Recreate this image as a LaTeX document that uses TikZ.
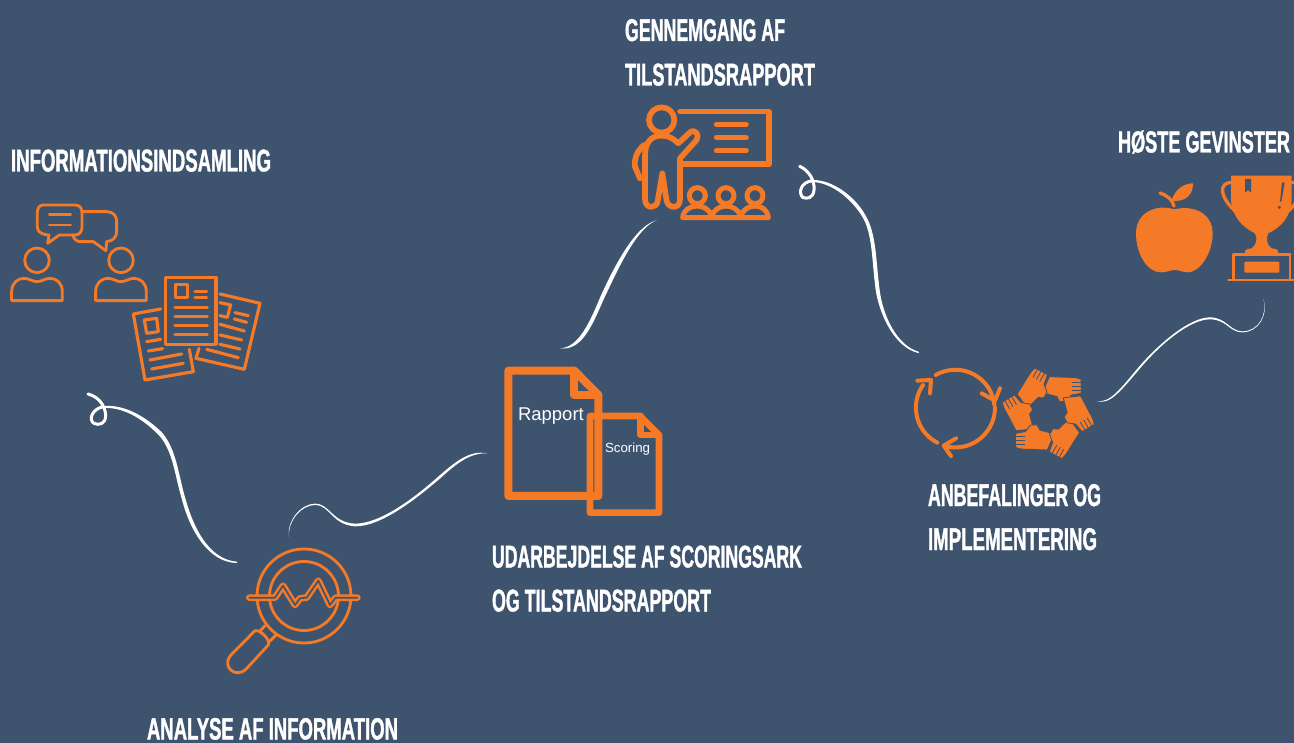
\documentclass[tikz,border=0pt]{standalone}
\usepackage{fontspec}
\usepackage{graphicx}
\setmainfont{Liberation Sans}
\newfontfamily\headfont[FakeStretch=0.62,FakeBold=1.2,BoldFont={Liberation Sans Bold}]{Liberation Sans}
\definecolor{bgc}{HTML}{3E536E}
\definecolor{org}{HTML}{F57A27}
\newcommand{\hd}[3]{\resizebox{#1pt}{#2pt}{\headfont\bfseries\fontsize{30}{30}\selectfont #3}}
\tikzset{
  zm/.style 2 args={xshift=#1pt,yshift=-#2pt,x=.33333pt,y=-.33333pt},
  lbl/.style={inner sep=0pt,outer sep=0pt,anchor=base west,text=white},
  ol/.style={draw=org,line width=#1*.33333pt,line cap=round,line join=round},
  ol/.default=8.5,
  taper/.style={fill=white,draw=white,line width=1.3pt,line join=round},
  thinw/.style={draw=white,line width=#1*.33333pt,line cap=round},
  hand/.style={fill=org,draw=bgc,line width=2.5*.33333pt,line join=round},
  fing/.style={draw=bgc,line width=2.5*.33333pt}
}
\newcommand{\onehand}{%
  \path[hand] (433,50) -- (490,52) .. controls (505,52) and (520,53) .. (528,58)
    -- (529,99) .. controls (518,103) and (508,103) .. (499,105)
    -- (483,125) -- (463,125) -- (456,110) -- (412,98) -- cycle;
  \draw[fing] (500,66) -- (531,66) (500,78) -- (531,78) (500,90) -- (531,90);
}
\begin{document}
\begin{tikzpicture}[x=1pt,y=-1pt]
\useasboundingbox (0,0) rectangle (1294,743);
\clip (0,0) rectangle (1294,743);
\fill[bgc] (0,0) rectangle (1294,743);

% labels
\node[lbl] (t1a) at (625,41) {\hd{160}{22}{GENNEMGANG AF}};
\node[lbl] (t1b) at (625,85.5) {\hd{190}{22}{TILSTANDSRAPPORT}};
\node[lbl] (t2) at (11,171.5) {\hd{260}{22}{INFORMATIONSINDSAMLING}};
\node[lbl] (t3) at (1118,152.5) {\hd{172}{22}{HØSTE GEVINSTER}};
\node[lbl] (t4a) at (492,567.5) {\hd{310}{22}{UDARBEJDELSE AF SCORINGSARK}};
\node[lbl] (t4b) at (492,611.5) {\hd{219}{22}{OG TILSTANDSRAPPORT}};
\node[lbl] (t5a) at (928,506) {\hd{173}{22}{ANBEFALINGER OG}};
\node[lbl] (t5b) at (928,550) {\hd{169}{22}{IMPLEMENTERING}};
\node[lbl] (t6) at (147,739.5) {\hd{251}{21.5}{ANALYSE AF INFORMATION}};
\node[lbl,font=\fontsize{18.5}{20}\selectfont] (r1) at (518,420.5) {Rapport};
\node[lbl,font=\fontsize{13.3}{15}\selectfont] (r2) at (605,452.5) {Scoring};

% people and papers
\begin{scope}[zm={0}{190}]
  \draw[ol] (130,45) -- (225,45) .. controls (240,45) and (246,55) .. (246,68)
    -- (246,112) .. controls (246,125) and (238,135) .. (225,135) -- (178,135) -- (143,160) -- (147,135)
    .. controls (122,133) and (112,125) .. (112,110) -- (112,68) .. controls (112,55) and (118,45) .. (130,45) -- cycle;
  \draw[ol] (148,73) -- (212,73) (148,105) -- (212,105);
  \draw[ol] (245,65) -- (320,65) .. controls (340,65) and (350,78) .. (350,95) -- (350,125)
    .. controls (350,142) and (338,153) .. (320,155) -- (318,182) -- (280,155) -- (240,155)
    .. controls (230,155) and (222,147) .. (218,135);
  \foreach \dx in {0,252}{
    \begin{scope}[xshift=\dx*.33333pt]
      \draw[ol] (111,211) circle[radius=12.3pt];
      \draw[ol] (35,332) -- (187,332) -- (187,305) .. controls (187,280) and (170,265) .. (150,265)
        .. controls (135,265) and (125,275) .. (111,275) .. controls (97,275) and (87,265) .. (72,265)
        .. controls (52,265) and (35,280) .. (35,305) -- cycle;
    \end{scope}}
  \draw[ol=9.5] (497,262) rectangle (648,463);
  \draw[ol=9.5] (527,283) rectangle (562,322);
  \draw[ol=9.5] (585,304) -- (620,304) (585,322) -- (620,322)
     (525,352) -- (622,352) (525,380) -- (622,380) (525,406) -- (622,406) (525,433) -- (622,433);
  \draw[ol=9.5] (482,357) -- (400,372) -- (435,570) -- (580,545) -- (568,478);
  \draw[ol=9.5] (433,390) -- (470,385) -- (475,425) -- (440,430) -- cycle;
  \draw[ol=9.5] (440,455) -- (482,448) (445,483) -- (488,476) (450,510) -- (545,492) (455,537) -- (550,520);
  \draw[ol=9.5] (660,312) -- (780,340) -- (733,538) -- (588,505) -- (597,475);
  \draw[ol=9.5] (660,338) -- (692,345) -- (682,382) -- (660,377);
  \draw[ol=9.5] (705,368) -- (745,377) (703,387) -- (740,397) (660,403) -- (733,423)
     (660,435) -- (725,450) (660,463) -- (720,477) (620,478) -- (715,503);
\end{scope}

% presenter
\begin{scope}[zm={620}{95}]
  \draw[ol=17] (125,75) circle[radius=12.7pt];
  \draw[ol=17] (180,50) -- (447,50) -- (447,208) -- (185,208);
  \draw[ol=17] (290,89) -- (378,89) (290,128) -- (378,128) (290,167) -- (378,167);
  \draw[ol=17] (125,122) .. controls (90,122) and (75,145) .. (75,185) -- (75,312)
    .. controls (75,345) and (112,340) .. (113,318) -- (127,235) -- (140,318)
    .. controls (145,340) and (180,345) .. (180,312) -- (180,190) -- (230,135)
    .. controls (240,120) and (225,100) .. (210,112) -- (175,145) .. controls (160,130) and (145,122) .. (125,122) -- cycle;
  \draw[ol=17] (72,150) .. controls (50,170) and (42,190) .. (45,215) -- (60,250);
  \foreach \cx in {232,318,405}{\draw[ol=15] (\cx,302) circle[radius=8pt];}
  \draw[ol=15] (188,368) -- (445,368) .. controls (443,345) and (425,333) .. (405,333)
    .. controls (385,333) and (370,345) .. (362,362) .. controls (355,345) and (338,333) .. (318,333)
    .. controls (298,333) and (283,345) .. (275,362) .. controls (268,345) and (252,333) .. (232,333)
    .. controls (210,333) and (190,345) .. (188,368) -- cycle;
\end{scope}

% apple and trophy
\begin{scope}[zm={1125}{170}]
  \fill[org] (148,118) .. controls (200,105) and (262,125) .. (263,190)
    .. controls (263,250) and (225,305) .. (190,307) .. controls (170,307) and (165,300) .. (150,300)
    .. controls (135,300) and (125,308) .. (105,307) .. controls (65,305) and (33,250) .. (33,190)
    .. controls (33,130) and (90,100) .. (148,118) -- cycle;
  \fill[org] (140,92) .. controls (150,55) and (180,40) .. (204,40) .. controls (205,70) and (185,98) .. (140,92) -- cycle;
  \draw[ol=10] (105,69) .. controls (130,78) and (142,90) .. (147,108);
  \draw[ol=10] (320,37) .. controls (280,38) and (283,80) .. (332,125);
  \draw[ol=10] (500,37) .. controls (540,38) and (537,80) .. (488,125);
  \fill[org] (318,17) -- (500,17) -- (500,90) .. controls (497,140) and (470,170) .. (430,190)
    .. controls (422,205) and (425,225) .. (440,235) -- (452,237) .. controls (460,238) and (460,245) .. (460,250)
    -- (360,250) .. controls (360,245) and (360,238) .. (368,237) -- (380,235)
    .. controls (395,225) and (398,205) .. (390,190) .. controls (350,170) and (322,140) .. (318,90) -- cycle;
  \fill[bgc] (360,27) -- (378,27) -- (378,68) -- (369,60) -- (360,68) -- cycle;
  \fill[bgc] (471,38) -- (479,38) -- (469,95) -- (465,95) -- cycle;
  \fill[bgc] (463,112) circle[radius=1.6pt];
  \draw[ol=8] (325,253) -- (495,253) (325,253) -- (325,330) (495,253) -- (495,330) (310,330) -- (520,330);
  \fill[org,rounded corners=1pt] (358,275) rectangle (463,308);
\end{scope}

% cycle
\begin{scope}[zm={905}{360}]
  \draw[ol=12] (92,45) arc[start angle=120,end angle=6,radius=39.3pt];
  \draw[ol=12] (230,100) -- (270,122) -- (285,85);
  \draw[ol=12] (270,143) arc[start angle=0,end angle=-106,radius=39.8pt];
  \draw[ol=12] (153,235) -- (116,257) -- (138,288);
  \draw[ol=12] (97,248) arc[start angle=243,end angle=145,radius=39.3pt];
  \draw[ol=12] (37,62) -- (78,60) -- (75,100);
  \foreach \a in {0,60,120,180,240,300}{
    \begin{scope}[rotate around={\a:(430,160)}]\onehand\end{scope}}
\end{scope}

% magnifier
\begin{scope}[zm={215}{540}]
  \draw[ol=8.5] (267,168) circle[radius=47pt];
  \draw[ol=8.5] (267,168) circle[radius=34.5pt];
  \draw[org,line width=20*.33333pt,line cap=round,line join=round]
    (103,173) -- (180,173) -- (204,137) -- (240,195) -- (255,175) -- (275,173) -- (310,122) -- (345,195) -- (362,173) -- (427,173);
  \draw[bgc,line width=5*.33333pt,line cap=round,line join=round]
    (103,173) -- (180,173) -- (204,137) -- (240,195) -- (255,175) -- (275,173) -- (310,122) -- (345,195) -- (362,173) -- (427,173);
  \draw[ol=8.5] (150,257) -- (135,273) (183,285) -- (165,303);
  \draw[ol=8.5] (120,272) -- (48,345) .. controls (25,370) and (45,400) .. (70,398)
     .. controls (85,397) and (90,390) .. (100,380) -- (160,315) .. controls (168,300) and (135,268) .. (120,272) -- cycle;
\end{scope}

% documents
\begin{scope}[zm={495}{360}]
  \draw[ol=24] (40,32) -- (238,32) -- (310,105) -- (310,408) -- (40,408) -- cycle;
  \draw[ol=24] (238,32) -- (238,105) -- (310,105);
  \draw[ol=20] (285,168) -- (435,168) -- (492,225) -- (492,458) -- (285,458) -- cycle;
  \draw[ol=20] (437,168) -- (437,225) -- (492,225);
\end{scope}

% connector: papers <- analysis
\begin{scope}[zm={80}{385}]
  \coordinate (c1s) at (470,532);
  \coordinate (c1e) at (70,65);
  \path[taper] (c1s) .. controls (385,525) and (338,428) .. (314,340)
     .. controls (293,270) and (288,193) .. (243,142) .. controls (190,92) and (130,60) .. (c1e)
     -- (70,67) .. controls (130,64) and (187,98) .. (237,148) .. controls (282,197) and (286,272) .. (307,340)
     .. controls (330,432) and (385,530) .. (c1s) -- cycle;
  \draw[thinw=9] (c1e) .. controls (35,72) and (25,105) .. (42,115) .. controls (55,122) and (78,118) .. (77,90)
     .. controls (75,60) and (55,35) .. (24,27);
\end{scope}

% connector: analysis -> documents
\begin{scope}[zm={280}{440}]
  \coordinate (c2s) at (27,290);
  \coordinate (c2e) at (622,40);
  \fill[white] (c2s) .. controls (20,240) and (65,191) .. (105,191) .. controls (150,191) and (155,247) .. (225,251)
     .. controls (300,251) and (400,177) .. (478,107) .. controls (530,62) and (570,30) .. (c2e)
     .. controls (570,38) and (530,70) .. (483,113) .. controls (400,184) and (300,260) .. (225,259)
     .. controls (155,254) and (150,195) .. (105,195) .. controls (66,195) and (24,240) .. (c2s) -- cycle;
\end{scope}

% connector: documents -> presenter
\begin{scope}[zm={555}{215}]
  \coordinate (c3s) at (15,400);
  \coordinate (c3e) at (305,16);
  \fill[white] (c3s) .. controls (70,398) and (103,325) .. (135,248)
     .. controls (177,155) and (240,32) .. (c3e)
     .. controls (245,38) and (190,160) .. (146,253) .. controls (110,335) and (80,408) .. (c3s) -- cycle;
\end{scope}

% connector: presenter -> recommendations
\begin{scope}[zm={790}{160}]
  \coordinate (c4s) at (385,577);
  \coordinate (c4e) at (70,62);
  \path[taper] (c4s) .. controls (320,558) and (277,470) .. (267,390)
     .. controls (255,300) and (258,220) .. (223,164) .. controls (195,114) and (130,62) .. (c4e)
     -- (70,64) .. controls (130,68) and (187,118) .. (218,168) .. controls (250,220) and (247,300) .. (259,390)
     .. controls (272,472) and (320,562) .. (c4s) -- cycle;
  \draw[thinw=9] (c4e) .. controls (30,65) and (25,100) .. (38,112) .. controls (50,118) and (70,115) .. (72,90)
     .. controls (75,60) and (55,30) .. (29,19);
\end{scope}

% connector: recommendations -> harvest
\begin{scope}[zm={1090}{290}]
  \coordinate (c5s) at (20,333);
  \coordinate (c5e) at (520,27);
  \fill[white] (c5s) .. controls (60,340) and (90,298) .. (148,229)
     .. controls (210,158) and (300,82) .. (360,82) .. controls (410,83) and (420,124) .. (457,124)
     .. controls (505,124) and (533,75) .. (c5e)
     .. controls (536,75) and (505,127) .. (457,127) .. controls (418,127) and (410,88) .. (360,88)
     .. controls (300,88) and (212,162) .. (152,233) .. controls (92,303) and (60,346) .. (c5s) -- cycle;
\end{scope}
\end{tikzpicture}
\end{document}
